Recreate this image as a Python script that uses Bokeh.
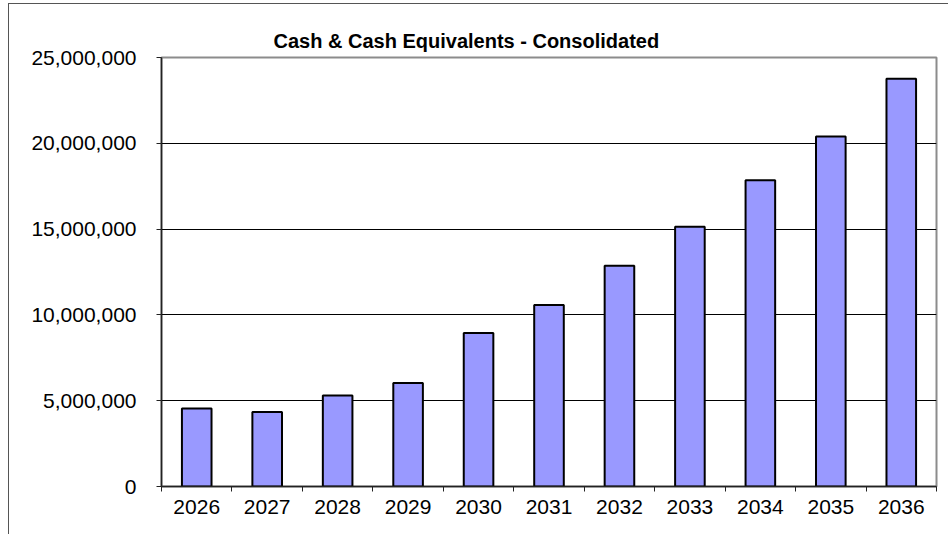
from bokeh.plotting import figure
from bokeh.models import (ColumnDataSource, FixedTicker, NumeralTickFormatter,
                          Range1d)
from bokeh.embed import file_html
from bokeh.resources import INLINE

# ---- data ----
years = ["2026", "2027", "2028", "2029", "2030", "2031",
         "2032", "2033", "2034", "2035", "2036"]
cash = [4540000, 4340000, 5310000, 6030000, 8950000, 10580000,
        12860000, 15130000, 17850000, 20390000, 23760000]
y_ticks = [0, 5000000, 10000000, 15000000, 20000000, 25000000]
title_text = "Cash & Cash Equivalents - Consolidated"

FONT = "Liberation Sans"

n = len(years)
xpos = [i + 0.5 for i in range(n)]
src = ColumnDataSource(dict(x=xpos, top=cash, year=years))

p = figure(width=940, height=531, output_backend="svg", toolbar_location=None,
           x_range=Range1d(0, n), y_range=Range1d(0, 25000000),
           min_border_left=152, min_border_right=13,
           min_border_top=53, min_border_bottom=49)
p.background_fill_color = "white"
p.border_fill_color = "white"
p.outline_line_color = "#8c8c8c"
p.outline_line_width = 2
p.styles = {"margin-left": "8px", "margin-top": "3px",
            "border-left": "1px solid #555555", "border-top": "1px solid #555555"}

p.title.text = title_text
p.title.align = "left"
p.title.offset = 112
p.title.standoff = 12
p.title.text_font = FONT
p.title.text_font_size = "20px"
p.title.text_font_style = "bold"
p.title.text_color = "black"

p.vbar(x="x", top="top", width=0.42, source=src, fill_color="#9999FF",
       line_color="black", line_width=2)

# y axis
p.yaxis.ticker = FixedTicker(ticks=y_ticks)
p.yaxis.formatter = NumeralTickFormatter(format="0,0")
p.yaxis.major_label_text_font = FONT
p.yaxis.major_label_text_font_size = "21px"
p.yaxis.major_label_text_color = "black"
p.yaxis.major_tick_out = 5
p.yaxis.major_tick_in = 0
p.yaxis.minor_tick_line_color = None
p.yaxis.major_label_standoff = 20
p.yaxis.axis_line_color = "#222222"
p.yaxis.axis_line_width = 1.5
p.yaxis.major_tick_line_color = "#222222"

# x axis: labels at bar centers, ticks between categories
p.xaxis.ticker = FixedTicker(ticks=xpos, minor_ticks=list(range(n + 1)))
p.xaxis.major_label_overrides = {x: y for x, y in zip(xpos, years)}
p.xaxis.major_tick_line_color = None
p.xaxis.major_tick_out = 0
p.xaxis.major_tick_in = 0
p.xaxis.minor_tick_out = 5
p.xaxis.minor_tick_in = 0
p.xaxis.minor_tick_line_color = "#222222"
p.xaxis.major_label_text_font = FONT
p.xaxis.major_label_text_font_size = "21px"
p.xaxis.major_label_text_color = "black"
p.xaxis.major_label_standoff = 8
p.xaxis.axis_line_color = "#222222"
p.xaxis.axis_line_width = 1.5

p.xgrid.grid_line_color = None
p.ygrid.ticker = FixedTicker(ticks=y_ticks)
p.ygrid.grid_line_color = "black"
p.ygrid.grid_line_width = 1

open("out.html", "w").write(file_html(p, INLINE))
